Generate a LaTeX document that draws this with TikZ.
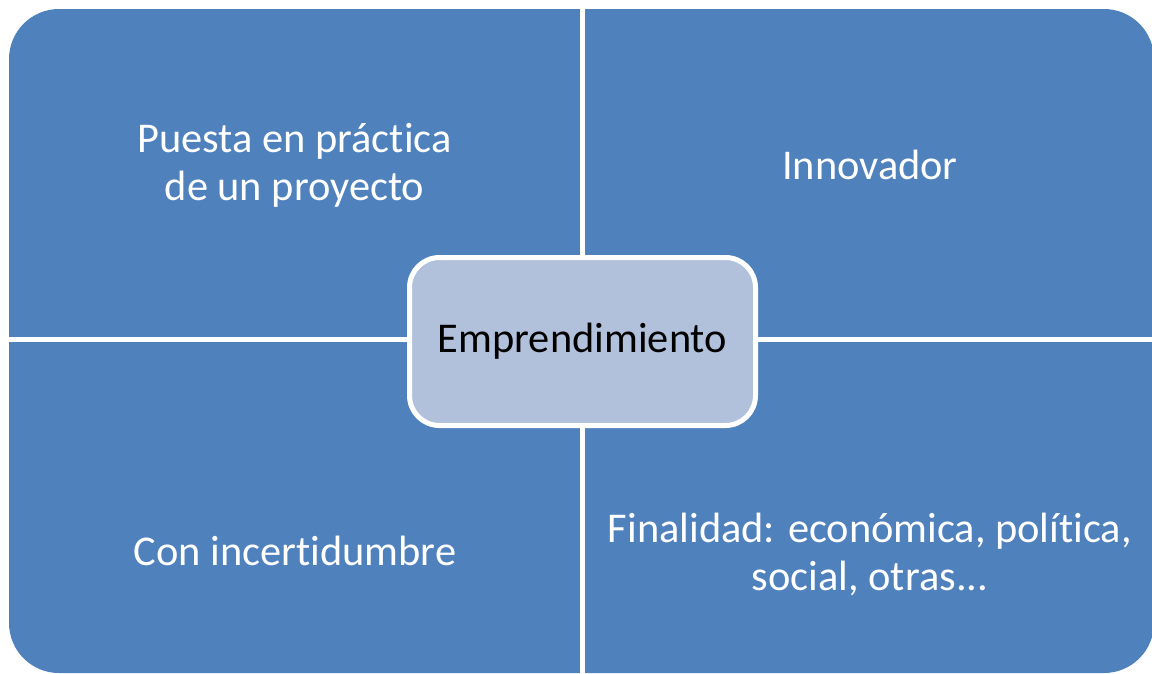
\documentclass[tikz,border=0pt]{standalone}
\usepackage{fontspec}
\setmainfont[Ligatures=NoCommon]{Carlito}
\definecolor{quadblue}{HTML}{4F81BD}
\definecolor{centerblue}{HTML}{B2C1DB}
\begin{document}
\begin{tikzpicture}[x=1pt,y=-1pt,
  quadtext/.style={text=white,align=center,font=\fontsize{42.4}{48}\selectfont,inner sep=0pt},
  centerbox/.style={rounded corners=30pt,fill=centerblue,draw=white,line width=5pt,
    minimum width=346pt,minimum height=168pt,text=black,font=\fontsize{42.4}{48}\selectfont},
  gap/.style={white,line width=5pt}]
\useasboundingbox (0,0) rectangle (1152,673);
\fill[quadblue,rounded corners=50pt] (9,9) rectangle (1154,673);
\coordinate (ctop) at (582.5,0);
\coordinate (cbot) at (582.5,680);
\coordinate (cleft) at (0,339.5);
\coordinate (cright) at (1160,339.5);
\draw[gap] (ctop) -- (cbot);
\draw[gap] (cleft) -- (cright);
\node[centerbox] (center) at (582.5,341.5) {Emprendimiento};
\node[quadtext] (tl) at (294.5,165) {Puesta en práctica\\de un proyecto};
\node[quadtext] (tr) at (870,165) {Innovador};
\node[quadtext] (bl) at (295,551) {Con incertidumbre};
\node[quadtext] (br) at (870,554) {Finalidad: económica, política,\\social, otras...};
\end{tikzpicture}
\end{document}
